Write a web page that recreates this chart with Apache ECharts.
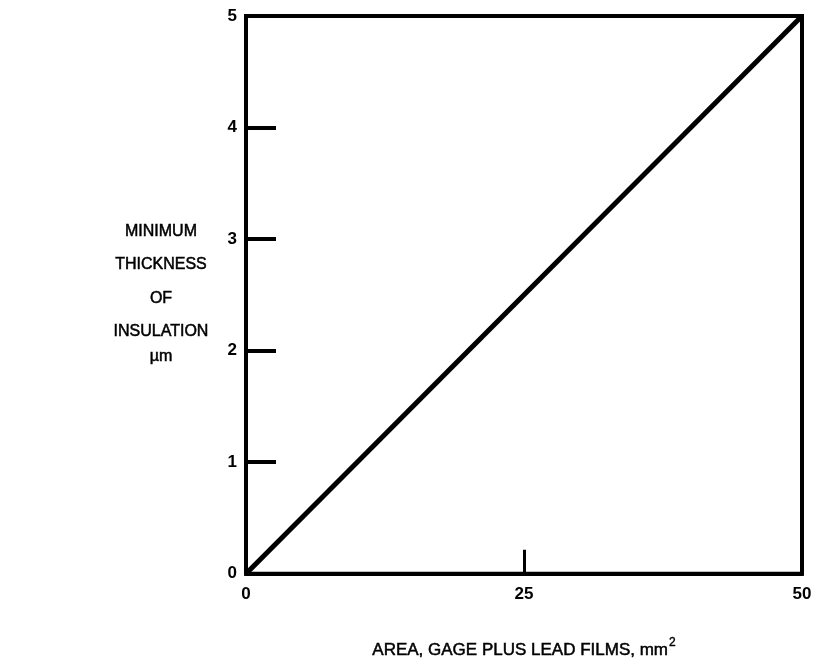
<!DOCTYPE html>
<html>
<head>
<meta charset="utf-8">
<script src="https://cdn.jsdelivr.net/npm/echarts@6/dist/echarts.min.js"></script>
<style>
  html, body { margin: 0; padding: 0; background: #fff; }
  #chart { width: 817px; height: 664px; }
</style>
</head>
<body>
<div id="chart"></div>
<script>
// Minimum insulation thickness as a function of gage + lead film area
const areaValues = [0, 50];          // mm^2
const thicknessValues = [0, 5];      // µm
const xTickLabels = ['0', '25', '50'];
const yTickLabels = ['0', '1', '2', '3', '4', '5'];
const yTitleLines = ['MINIMUM', 'THICKNESS', 'OF', 'INSULATION', 'µm'];

const FONT = '"Liberation Sans", Arial, Helvetica, sans-serif';
const chart = echarts.init(document.getElementById('chart'), null, { renderer: 'canvas' });

// Stacked y-axis caption, one text element per line
const titleY = [231.5, 265, 298.5, 332, 356.5];
const yTitle = yTitleLines.map((line, i) => ({
  type: 'text',
  x: 161,
  y: titleY[i],
  style: {
    text: line, fill: '#000', font: '16px ' + FONT,
    align: 'center', verticalAlign: 'middle',
    stroke: '#000', lineWidth: 0.5
  }
}));

chart.setOption({
  backgroundColor: '#ffffff',
  animation: false,
  grid: {
    left: 246, right: 15, top: 16, bottom: 78,
    show: true, borderColor: '#000', borderWidth: 4, backgroundColor: 'transparent'
  },
  graphic: yTitle,
  xAxis: {
    type: 'value', min: 0, max: 50, interval: 25,
    axisLine: { show: true, lineStyle: { color: '#000', width: 4 } },
    axisTick: { show: true, inside: true, length: 24, lineStyle: { color: '#000', width: 3 } },
    splitLine: { show: false },
    axisLabel: {
      margin: 12, color: '#000', fontFamily: FONT, fontWeight: 'bold', fontSize: 17,
      formatter: v => xTickLabels[Math.round(v / 25)]
    },
    name: '{t|AREA, GAGE PLUS LEAD FILMS, mm}{s|2}',
    nameLocation: 'middle', nameGap: 63,
    nameTextStyle: {
      rich: {
        t: { fontFamily: FONT, fontSize: 17, color: '#000', verticalAlign: 'bottom', lineHeight: 22,
             textBorderColor: '#000', textBorderWidth: 0.5 },
        s: { fontFamily: FONT, fontSize: 12, color: '#000', verticalAlign: 'top', lineHeight: 22,
             padding: [0, 0, 8, 1], textBorderColor: '#000', textBorderWidth: 0.4 }
      }
    }
  },
  yAxis: {
    type: 'value', min: 0, max: 5, interval: 1,
    axisLine: { show: true, lineStyle: { color: '#000', width: 4 } },
    axisTick: { show: true, inside: true, length: 30, lineStyle: { color: '#000', width: 4 } },
    splitLine: { show: false },
    axisLabel: {
      margin: 9, color: '#000', fontFamily: FONT, fontWeight: 'bold', fontSize: 17,
      formatter: v => yTickLabels[Math.round(v)]
    }
  },
  series: [{
    type: 'line',
    data: areaValues.map((a, i) => [a, thicknessValues[i]]),
    showSymbol: false,
    lineStyle: { color: '#000', width: 5 },
    clip: false
  }]
});
</script>
</body>
</html>
